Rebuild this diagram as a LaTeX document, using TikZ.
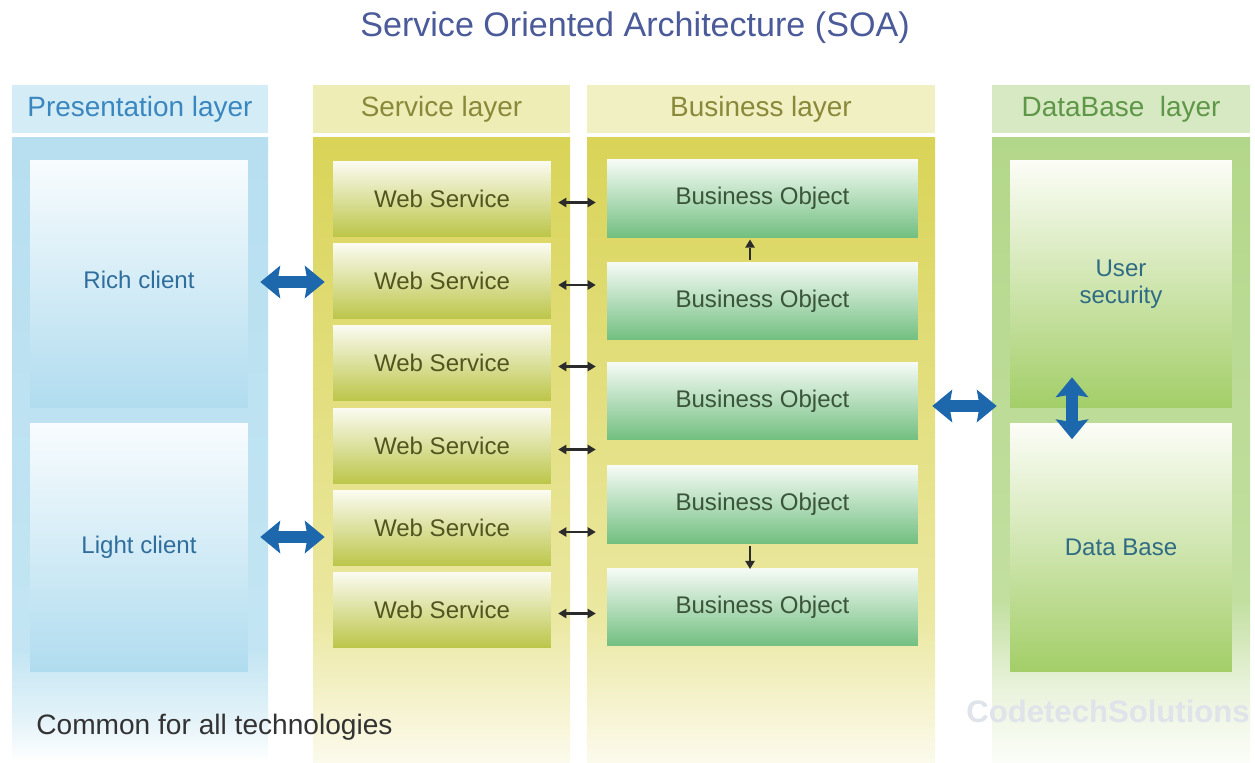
\documentclass[tikz,border=0pt]{standalone}
\usepackage{fontspec}
\setmainfont{Liberation Sans}
\usetikzlibrary{arrows.meta}
\definecolor{presHdr}{HTML}{D3ECF6}
\definecolor{presHdrText}{HTML}{3A86BE}
\definecolor{svcHdr}{HTML}{EEEDB6}
\definecolor{busHdr}{HTML}{F1F0C2}
\definecolor{svcHdrText}{HTML}{8A893A}
\definecolor{dbHdr}{HTML}{D7E9C3}
\definecolor{dbHdrText}{HTML}{5E9747}
\definecolor{presBodyTop}{HTML}{B7DFF0}
\definecolor{presBodyMid}{HTML}{C3E5F3}
\definecolor{presBodyLow}{HTML}{E4F3F9}
\definecolor{svcBodyTop}{HTML}{D9D457}
\definecolor{svcBodyMid}{HTML}{EBE8A2}
\definecolor{svcBodyBot}{HTML}{FCFAEC}
\definecolor{dbBodyTop}{HTML}{B3D78A}
\definecolor{dbBodyMid}{HTML}{C2DFA0}
\definecolor{dbBodyLow}{HTML}{EAF3DD}
\definecolor{dbBodyBot}{HTML}{FBFDF8}
\definecolor{cliTop}{HTML}{F8FCFE}
\definecolor{cliBot}{HTML}{B0DCEF}
\definecolor{cliText}{HTML}{2F6E9C}
\definecolor{wsTop}{HTML}{FBFBF1}
\definecolor{wsBot}{HTML}{BCC64A}
\definecolor{wsText}{HTML}{52551F}
\definecolor{boTop}{HTML}{F6FBF6}
\definecolor{boBot}{HTML}{72BF80}
\definecolor{boText}{HTML}{3A553A}
\definecolor{dbTop}{HTML}{FCFDF7}
\definecolor{dbBot}{HTML}{A3CE68}
\definecolor{dbText}{HTML}{2F6C84}
\definecolor{arrowBlue}{HTML}{1D67AC}
\definecolor{arrowDark}{HTML}{2B2B2B}
\definecolor{titleCol}{HTML}{4B5A98}
\definecolor{commonCol}{HTML}{333333}
\definecolor{wmark}{HTML}{DFE3EA}
\begin{document}
\begin{tikzpicture}[x=0.02cm,y=-0.02cm,
  hdr/.style={inner sep=0pt, minimum height=0.96cm, font=\fontsize{15.9}{18}\selectfont},
  card/.style={inner sep=0pt, font=\fontsize{13.7}{16.5}\selectfont, align=center},
  clientbox/.style={card, minimum width=4.36cm, minimum height=4.96cm, top color=cliTop, bottom color=cliBot, text=cliText},
  wsbox/.style={card, minimum width=4.36cm, minimum height=1.5cm, top color=wsTop, bottom color=wsBot, text=wsText},
  bobox/.style={card, minimum width=6.22cm, minimum height=1.55cm, top color=boTop, bottom color=boBot, text=boText},
  dbbox/.style={card, minimum width=4.44cm, minimum height=4.96cm, top color=dbTop, bottom color=dbBot, text=dbText},
  bigarrow/.style={draw=arrowBlue, line width=0.25cm,
    {Stealth[width=0.66cm,length=0.4cm,inset=0.06cm,line width=0pt]}-{Stealth[width=0.66cm,length=0.4cm,inset=0.06cm,line width=0pt]}},
  thinarrow/.style={draw=arrowDark, line width=1.3pt,
    {Triangle[length=4.6pt,width=5.6pt,line width=0pt]}-{Triangle[length=4.6pt,width=5.6pt,line width=0pt]}},
  onearrow/.style={draw=arrowDark, line width=1.3pt, -{Triangle[length=4.6pt,width=5.6pt,line width=0pt]}}
]
\useasboundingbox (0,0) rectangle (1255,762);
\fill[white] (0,0) rectangle (1255,762);

% column bodies
\shade[top color=presBodyTop, bottom color=presBodyMid] (12,137) rectangle (268,650);
\shade[top color=presBodyMid, bottom color=presBodyLow] (12,650) rectangle (268,720);
\shade[top color=presBodyLow, bottom color=white] (12,720) rectangle (268,762);
\shade[top color=svcBodyTop, bottom color=svcBodyMid] (313,137) rectangle (570,620);
\shade[top color=svcBodyMid, bottom color=svcBodyBot] (313,620) rectangle (570,762);
\shade[top color=svcBodyTop, bottom color=svcBodyMid] (587,137) rectangle (935,620);
\shade[top color=svcBodyMid, bottom color=svcBodyBot] (587,620) rectangle (935,762);
\shade[top color=dbBodyTop, bottom color=dbBodyMid] (992,137) rectangle (1250,600);
\shade[top color=dbBodyMid, bottom color=dbBodyLow] (992,600) rectangle (1250,690);
\shade[top color=dbBodyLow, bottom color=dbBodyBot] (992,690) rectangle (1250,762);

% title
\node[font=\fontsize{19.4}{23}\selectfont, text=titleCol] (title) at (635,28) {Service Oriented Architecture (SOA)};

% headers
\node[hdr, minimum width=5.12cm, fill=presHdr, text=presHdrText] (hpres) at (140,109) {Presentation layer};
\node[hdr, minimum width=5.14cm, fill=svcHdr, text=svcHdrText] (hsvc) at (441.5,109) {Service layer};
\node[hdr, minimum width=6.96cm, fill=busHdr, text=svcHdrText] (hbus) at (761,109) {Business layer};
\node[hdr, minimum width=5.16cm, fill=dbHdr, text=dbHdrText] (hdb) at (1121,109) {DataBase\ \ layer};

% presentation
\node[clientbox] (rich) at (139,284) {\raisebox{0.16cm}{Rich client}};
\node[clientbox] (light) at (139,547.5) {Light client};

% web services
\node[wsbox] (ws1) at (442,198.5) {Web Service};
\node[wsbox] (ws2) at (442,281) {Web Service};
\node[wsbox] (ws3) at (442,362.5) {Web Service};
\node[wsbox] (ws4) at (442,445.5) {Web Service};
\node[wsbox] (ws5) at (442,528) {Web Service};
\node[wsbox] (ws6) at (442,609.5) {Web Service};

% business objects
\node[bobox] (bo1) at (762.5,198.5) {Business Object};
\node[bobox] (bo2) at (762.5,301) {Business Object};
\node[bobox] (bo3) at (762.5,401) {Business Object};
\node[bobox] (bo4) at (762.5,504.5) {Business Object};
\node[bobox] (bo5) at (762.5,607) {Business Object};

% database
\node[dbbox] (us) at (1121,284) {User\\[-1pt]security};
\node[dbbox] (db) at (1121,547.5) {Data Base};

% footer texts
\node[anchor=west, inner sep=0pt, font=\fontsize{16}{19}\selectfont, text=commonCol] (common) at (36,727) {Common for all technologies};
\node[anchor=west, inner sep=0pt, font=\bfseries\fontsize{17.7}{21}\selectfont, text=wmark] (wm) at (966,711) {CodetechSolutions};

% thin arrows WS <-> BO
\foreach \w in {ws1,ws2,ws3,ws4,ws5,ws6}{
  \draw[thinarrow, shorten <=0.14cm, shorten >=0.22cm]
    ([yshift=-0.08cm]\w.east) -- ([yshift=-0.08cm]\w.east -| bo1.west);
}
% vertical thin arrows
\draw[onearrow, shorten <=0.04cm, shorten >=0.04cm] ([xshift=-0.25cm]bo2.north) -- ([xshift=-0.25cm]bo1.south);
\draw[onearrow, shorten <=0.04cm, shorten >=-0.02cm] ([xshift=-0.25cm]bo4.south) -- ([xshift=-0.25cm]bo5.north);

% big blue arrows
\draw[bigarrow, shorten <=0.24cm, shorten >=0.16cm] ([yshift=0.04cm]rich.east) -- ([yshift=0.04cm]rich.east -| ws2.west);
\draw[bigarrow, shorten <=0.24cm, shorten >=0.16cm] ([yshift=0.21cm]light.east) -- ([yshift=0.21cm]light.east -| ws5.west);
\draw[bigarrow, shorten <=0.28cm, shorten >=0.26cm] ([yshift=-0.1cm]bo3.east) -- ([yshift=-0.1cm]bo3.east -| us.west);
\draw[bigarrow, shorten <=-0.62cm, shorten >=-0.32cm] ([xshift=-0.98cm]us.south) -- ([xshift=-0.98cm]db.north);
\end{tikzpicture}
\end{document}
